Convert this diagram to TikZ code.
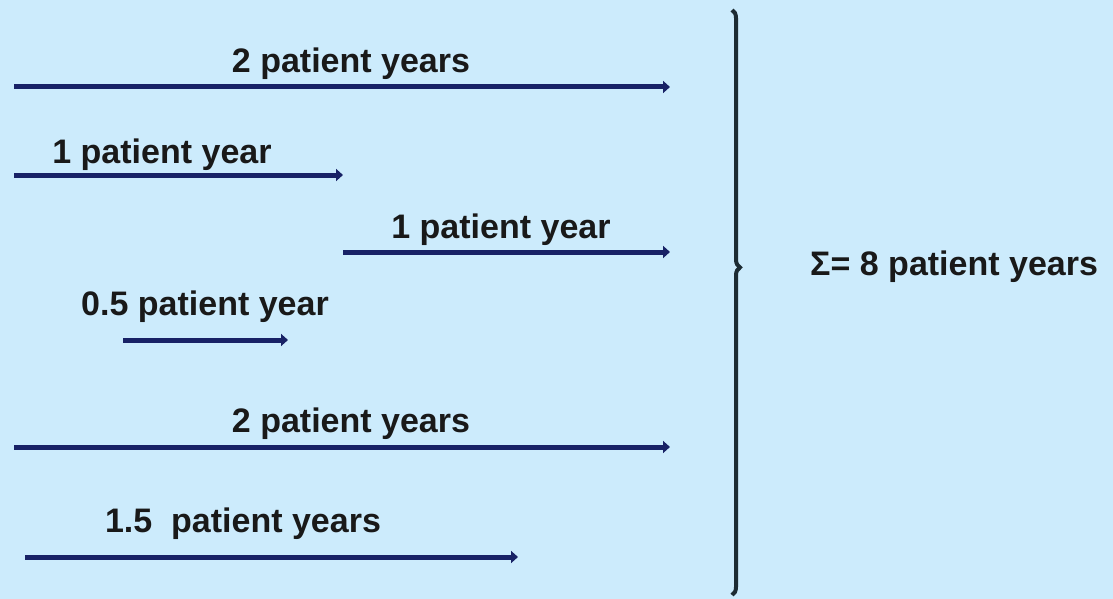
\documentclass[tikz,border=0pt]{standalone}
\usepackage{fontspec}
\setmainfont{Liberation Sans}
\usetikzlibrary{positioning, arrows.meta, decorations.pathreplacing}

\definecolor{bgblue}{HTML}{CCEBFC}
\definecolor{arrowblue}{HTML}{182266}
\definecolor{bracedark}{HTML}{1C2B33}

\tikzset{
	pyarrow/.style={draw=arrowblue, line width=5pt, -{Triangle[length=7pt,width=12pt]}},
	pylabel/.style={anchor=base, inner sep=0pt, text=black!90,
		font=\fontsize{34}{38}\selectfont\bfseries},
}

\begin{document}
\begin{tikzpicture}[x=1pt,y=-1pt]

		\fill[bgblue] (0,0) rectangle (1113,599);
		\useasboundingbox (0,0) rectangle (1113,599);

		% arrow ends
		\coordinate (onestart) at (14,87);    \coordinate (oneend) at (670,87);
		\coordinate (twostart) at (14,175);   \coordinate (twoend) at (343,175);
		\coordinate (threestart) at (343,252);\coordinate (threeend) at (670,252);
		\coordinate (fourstart) at (123,340); \coordinate (fourend) at (288,340);
		\coordinate (fivestart) at (14,447);  \coordinate (fiveend) at (670,447);
		\coordinate (sixstart) at (25,557);   \coordinate (sixend) at (518,557);

		\draw[pyarrow] (onestart) -- (oneend);
		\draw[pyarrow] (twostart) -- (twoend);
		\draw[pyarrow] (threestart) -- (threeend);
		\draw[pyarrow] (fourstart) -- (fourend);
		\draw[pyarrow] (fivestart) -- (fiveend);
		\draw[pyarrow] (sixstart) -- (sixend);

		% labels
		\node[pylabel] (onelabel) at (351,73) {2 patient years};
		\node[pylabel] (twolabel) at (162,163) {1 patient year};
		\node[pylabel] (threelabel) at (501,238) {1 patient year};
		\node[pylabel] (fourlabel) at (205,315) {0.5 patient year};
		\node[pylabel] (fivelabel) at (351,432) {2 patient years};
		\node[pylabel] (sixlabel) at (243,532) {1.5\ \ patient years};

		% sum
		\coordinate (bracetop) at (732,10);
		\coordinate (bracebottom) at (732,595);
		\draw[bracedark, line width=4pt,
			decorate, decoration={brace, amplitude=8pt, aspect=0.44}]
			(bracetop) -- (bracebottom);
		\node[pylabel, anchor=west] (sumlabel) at (810,267) {Σ= 8 patient years};

	\end{tikzpicture}
\end{document}
